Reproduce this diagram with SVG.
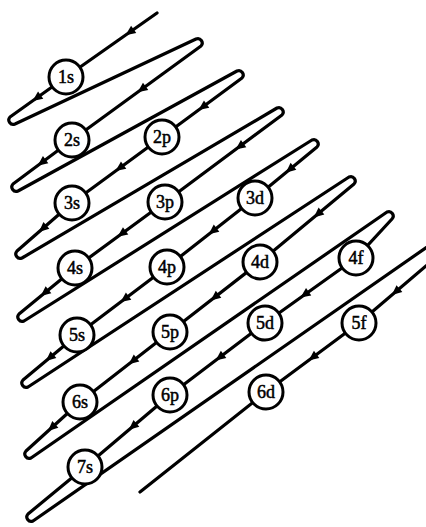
<svg xmlns="http://www.w3.org/2000/svg" xmlns:xlink="http://www.w3.org/1999/xlink" width="426" height="527" viewBox="0 0 426 527">
<style>
.ln{fill:none;stroke:#000;stroke-width:3.2;stroke-linejoin:round;stroke-linecap:round}
.nd circle{fill:#fff;stroke:#000;stroke-width:3}
.nd text{font-family:"Liberation Serif","DejaVu Serif",serif;font-size:18px;text-anchor:middle;fill:#000;stroke:#000;stroke-width:0.5}
</style>
<defs>
<path id="ah" d="M5.5,0 L-4.5,-4.5 L-4.5,4.5 Z" fill="#000"/>
</defs>
<rect width="426" height="527" fill="#fff"/>
<g id="connectors">
<path class="ln" d="M157,13 L66,77 L10,117 A4.4,4.4 0 0 0 15,124 L196,39 A4.4,4.4 0 0 1 201,46 L72,140 L13,184 A4.4,4.4 0 0 0 18,191 L237,71 A4.4,4.4 0 0 1 242,78 L162,137 L72,203 L17,251 A4.4,4.4 0 0 0 22,258 L277,108 A4.4,4.4 0 0 1 282,115 L165,202 L75,268 L19,314 A4.4,4.4 0 0 0 24,321 L312,140 A4.4,4.4 0 0 1 317,147 L255,198 L167,267 L77,335 L23,380 A4.4,4.4 0 0 0 28,387 L349,177 A4.4,4.4 0 0 1 354,184 L260,262 L170,332 L80,402 L26,451 A4.4,4.4 0 0 0 31,458 L387,212 A4.4,4.4 0 0 1 392,219 L356,258 L265,323 L170,395 L85,467 L28,514 A4.4,4.4 0 0 0 33,521 L440,238"/>
<path class="ln" d="M440,254 L426,266 L359,323 L266,392 L140,492"/>
<use xlink:href="#ah" transform="translate(130,32) rotate(144.9)"/>
<use xlink:href="#ah" transform="translate(37,97.7) rotate(144.5)"/>
<use xlink:href="#ah" transform="translate(142,89) rotate(143.9)"/>
<use xlink:href="#ah" transform="translate(42,162.4) rotate(143.3)"/>
<use xlink:href="#ah" transform="translate(203,106.8) rotate(143.6)"/>
<use xlink:href="#ah" transform="translate(120,167.8) rotate(143.7)"/>
<use xlink:href="#ah" transform="translate(43,228.3) rotate(138.9)"/>
<use xlink:href="#ah" transform="translate(240,146.2) rotate(143.4)"/>
<use xlink:href="#ah" transform="translate(122,233.5) rotate(143.7)"/>
<use xlink:href="#ah" transform="translate(45,292.6) rotate(140.6)"/>
<use xlink:href="#ah" transform="translate(290,169.2) rotate(140.6)"/>
<use xlink:href="#ah" transform="translate(213,230.9) rotate(141.9)"/>
<use xlink:href="#ah" transform="translate(125,298.8) rotate(142.9)"/>
<use xlink:href="#ah" transform="translate(50,357.5) rotate(140.2)"/>
<use xlink:href="#ah" transform="translate(318,213.9) rotate(140.3)"/>
<use xlink:href="#ah" transform="translate(215,297) rotate(142.1)"/>
<use xlink:href="#ah" transform="translate(133,360.8) rotate(142.1)"/>
<use xlink:href="#ah" transform="translate(52,427.4) rotate(137.8)"/>
<use xlink:href="#ah" transform="translate(305,294.4) rotate(144.5)"/>
<use xlink:href="#ah" transform="translate(220,357.1) rotate(142.8)"/>
<use xlink:href="#ah" transform="translate(133,426.3) rotate(139.7)"/>
<use xlink:href="#ah" transform="translate(396,291.5) rotate(139.6)"/>
<use xlink:href="#ah" transform="translate(313,357.1) rotate(143.4)"/>
</g>
<g id="n1s" class="nd"><circle cx="66" cy="77" r="17"/><text x="66" y="83">1s</text></g>
<g id="n2s" class="nd"><circle cx="72" cy="140" r="17"/><text x="72" y="146">2s</text></g>
<g id="n2p" class="nd"><circle cx="162" cy="137" r="17"/><text x="162" y="143">2p</text></g>
<g id="n3s" class="nd"><circle cx="72" cy="203" r="17"/><text x="72" y="209">3s</text></g>
<g id="n3p" class="nd"><circle cx="165" cy="202" r="17"/><text x="165" y="208">3p</text></g>
<g id="n3d" class="nd"><circle cx="255" cy="198" r="17"/><text x="255" y="204">3d</text></g>
<g id="n4s" class="nd"><circle cx="75" cy="268" r="17"/><text x="75" y="274">4s</text></g>
<g id="n4p" class="nd"><circle cx="167" cy="267" r="17"/><text x="167" y="273">4p</text></g>
<g id="n4d" class="nd"><circle cx="260" cy="262" r="17"/><text x="260" y="268">4d</text></g>
<g id="n4f" class="nd"><circle cx="356" cy="258" r="17"/><text x="356" y="264">4f</text></g>
<g id="n5s" class="nd"><circle cx="77" cy="335" r="17"/><text x="77" y="341">5s</text></g>
<g id="n5p" class="nd"><circle cx="170" cy="332" r="17"/><text x="170" y="338">5p</text></g>
<g id="n5d" class="nd"><circle cx="265" cy="323" r="17"/><text x="265" y="329">5d</text></g>
<g id="n5f" class="nd"><circle cx="359" cy="323" r="17"/><text x="359" y="329">5f</text></g>
<g id="n6s" class="nd"><circle cx="80" cy="402" r="17"/><text x="80" y="408">6s</text></g>
<g id="n6p" class="nd"><circle cx="170" cy="395" r="17"/><text x="170" y="401">6p</text></g>
<g id="n6d" class="nd"><circle cx="266" cy="392" r="17"/><text x="266" y="398">6d</text></g>
<g id="n7s" class="nd"><circle cx="85" cy="467" r="17"/><text x="85" y="473">7s</text></g>
</svg>
